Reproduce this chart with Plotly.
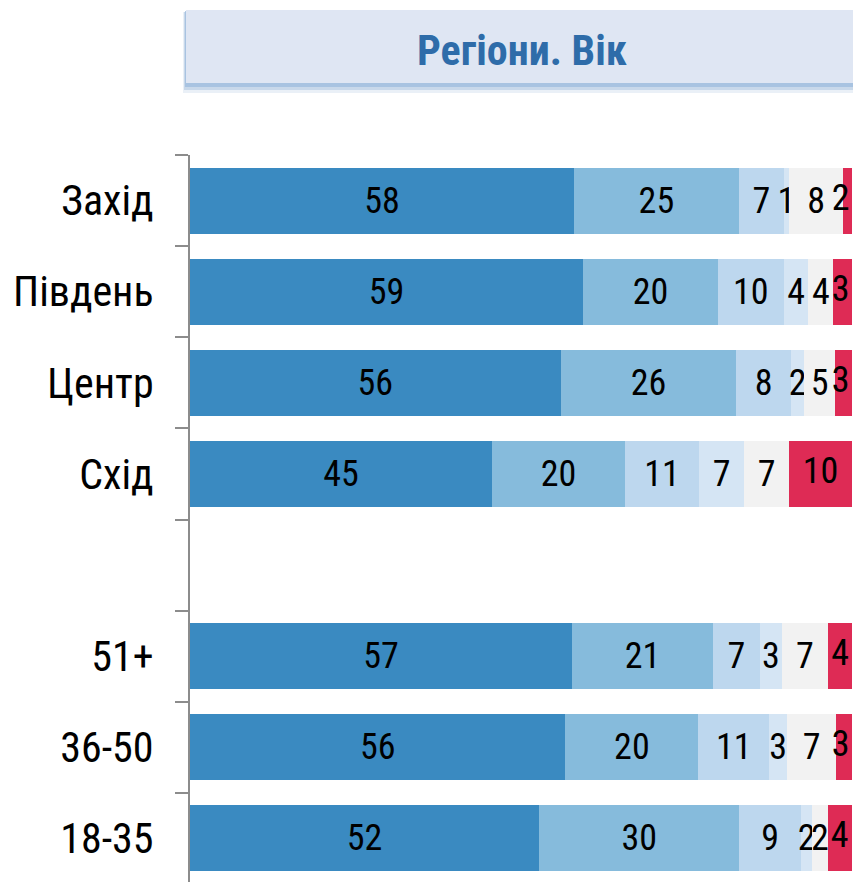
import plotly.graph_objects as go

categories = ["Захід", "Південь", "Центр", "Схід", "51+", "36-50", "18-35"]
axis_order = ["Захід", "Південь", "Центр", "Схід", " ", "51+", "36-50", "18-35"]

s1 = [58.0, 59.4, 56.0, 45.6, 57.7, 56.7, 52.7]
s2 = [24.9, 20.3, 26.5, 20.1, 21.3, 20.1, 30.3]
s3 = [6.8, 10.0, 8.3, 11.2, 7.1, 10.7, 9.3]
s4 = [0.8, 3.7, 2.0, 6.8, 3.3, 2.7, 1.7]
s5 = [8.2, 3.8, 4.6, 6.8, 7.0, 7.4, 2.3]
s6 = [1.6, 2.8, 2.7, 9.5, 3.6, 2.4, 3.7]

l1 = [58, 59, 56, 45, 57, 56, 52]
l2 = [25, 20, 26, 20, 21, 20, 30]
l3 = [7, 10, 8, 11, 7, 11, 9]
l4 = [1, 4, 2, 7, 3, 3, 2]
l5 = [8, 4, 5, 7, 7, 7, 2]
l6 = [2, 3, 3, 10, 4, 3, 4]

series = [s1, s2, s3, s4, s5, s6]
labels = [l1, l2, l3, l4, l5, l6]
colors = ["#3A8AC1", "#86BBDC", "#BDD7EE", "#D5E5F4", "#F2F2F2", "#DE2B55"]

FONT = "Liberation Sans Narrow, Arial Narrow, Roboto Condensed, DejaVu Sans Condensed, sans-serif"

fig = go.Figure()
for i, (vals, labs, col) in enumerate(zip(series, labels, colors)):
    last = i == len(series) - 1
    fig.add_trace(go.Bar(
        x=vals, y=categories, orientation="h",
        name=f"s{i+1}",
        marker=dict(color=col, line=dict(width=0)),
        text=None if last else [str(v) for v in labs],
        textposition="none" if last else "inside",
        insidetextanchor="middle",
        textangle=0,
        textfont=dict(family=FONT, size=36, color="black"),
        hoverinfo="skip", showlegend=False,
    ))

# labels of the last (clipped) segment: centred, but kept inside the chart edge
base = [a + b + c + d + e for a, b, c, d, e in zip(s1, s2, s3, s4, s5)]
red_x = [min(b + v / 2, 98.3) for b, v in zip(base, s6)]
fig.add_trace(go.Scatter(
    x=red_x, y=categories, mode="text", text=[str(v) for v in l6],
    textposition="middle center", cliponaxis=False,
    textfont=dict(family=FONT, size=36, color="black"),
    hoverinfo="skip", showlegend=False,
))

W, H = 853, 882
L, T = 190, 155
pw, ph = W - L - 1, H - T

def px(x):
    return (x - L) / pw

def py(y):
    return (H - y) / ph

shapes = [
    dict(type="rect", xref="paper", yref="paper", x0=px(183), x1=px(856), y0=py(93), y1=py(12),
         fillcolor="rgba(150,180,215,0.2)", line=dict(width=0), layer="above"),
    dict(type="rect", xref="paper", yref="paper", x0=px(184), x1=px(856), y0=py(90), y1=py(12),
         fillcolor="rgba(150,180,215,0.4)", line=dict(width=0), layer="above"),
    dict(type="rect", xref="paper", yref="paper", x0=px(185), x1=px(856), y0=py(87), y1=py(11),
         fillcolor="rgba(160,190,222,0.8)", line=dict(width=0), layer="above"),
    dict(type="rect", xref="paper", yref="paper", x0=px(186), x1=px(856), y0=py(83), y1=py(10),
         fillcolor="#DFE6F3", line=dict(width=0), layer="above"),
]

fig.update_layout(
    width=W, height=H,
    margin=dict(l=L, r=1, t=T, b=0, pad=0),
    paper_bgcolor="white", plot_bgcolor="white",
    barmode="stack", bargap=0.275,
    uniformtext=dict(minsize=36, mode="show"),
    shapes=shapes,
    annotations=[dict(text="<b>Регіони. Вік</b>", xref="paper", yref="paper",
                      x=px(522), y=py(50), xanchor="center", yanchor="middle",
                      showarrow=False,
                      font=dict(family=FONT, size=42, color="#2E6CA9"))],
    xaxis=dict(range=[0, 100], visible=False, fixedrange=True),
    yaxis=dict(categoryorder="array", categoryarray=axis_order,
               range=[7.478, -0.5], tickson="boundaries",
               ticks="outside", ticklen=13, tickwidth=2, tickcolor="#8C8C8C",
               showline=True, linecolor="#8C8C8C", linewidth=2,
               showgrid=False, zeroline=False, ticklabelstandoff=26,
               tickfont=dict(family=FONT, size=42, color="black")),
)

fig.write_html("out.html", config={"displayModeBar": False},
               post_script="document.body.style.margin='0';document.body.style.overflow='hidden';")
